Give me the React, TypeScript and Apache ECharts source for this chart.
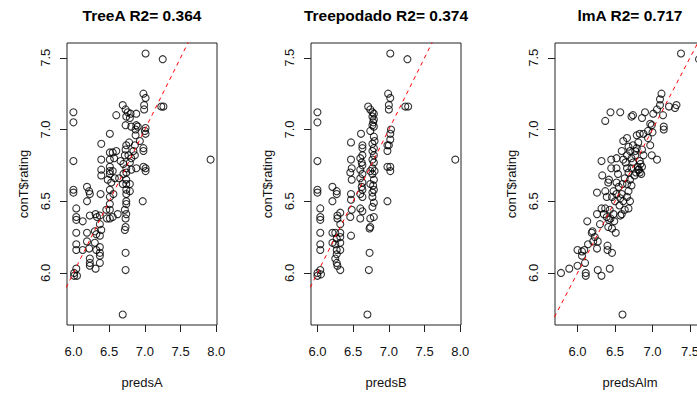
import React, { useEffect, useRef } from "react";
import * as echarts from "echarts";

// ---- data ----
const titles = ["TreeA R2= 0.364", "Treepodado R2= 0.374", "lmA R2= 0.717"];
const xNames = ["predsA", "predsB", "predsAlm"];
const yName = "conT$rating";
const yTicks = [6.0, 6.5, 7.0, 7.5];
const xTicksTree = [6.0, 6.5, 7.0, 7.5, 8.0];
const xTicksLm = [6.0, 6.5, 7.0, 7.5];

const pointsA: number[][] = [
  [7.01, 7.53], [7.25, 7.49], [6.0, 7.12], [6.0, 7.05], [6.0, 6.78], [6.0, 6.58], [6.0, 6.56], [7.92, 6.79],
  [6.98, 7.25], [6.99, 7.17], [6.99, 7.14], [7.01, 7.22], [7.23, 7.16], [7.26, 7.16], [6.69, 7.17], [6.73, 7.14],
  [6.76, 7.12], [6.8, 7.11], [6.88, 7.11], [6.74, 7.09], [6.79, 7.08], [6.6, 7.1], [6.73, 7.03], [6.81, 7.02],
  [6.88, 7.03], [6.51, 6.97], [6.39, 6.9], [6.87, 7.0], [6.9, 7.02], [7.01, 7.01], [7.01, 6.97], [7.0, 6.99],
  [6.87, 6.96], [6.93, 6.92], [6.98, 6.87], [6.98, 6.85], [6.86, 6.89], [6.74, 6.89], [6.73, 6.86], [6.77, 6.82],
  [6.72, 6.82], [6.81, 6.8], [6.79, 6.77], [6.86, 6.82], [6.39, 6.79], [6.39, 6.72], [6.39, 6.68], [6.38, 6.55],
  [6.51, 6.84], [6.55, 6.84], [6.6, 6.85], [6.51, 6.79], [6.51, 6.74], [6.51, 6.71], [6.51, 6.69], [6.55, 6.71],
  [6.48, 6.65], [6.53, 6.63], [6.58, 6.66], [6.51, 6.58], [6.51, 6.53], [6.51, 6.48], [6.51, 6.44], [6.51, 6.38],
  [6.46, 6.44], [6.56, 6.55], [6.7, 6.76], [6.74, 6.73], [6.74, 6.7], [6.74, 6.65], [6.74, 6.62], [6.74, 6.58],
  [6.74, 6.55], [6.74, 6.5], [6.74, 6.48], [6.72, 6.44], [6.74, 6.41], [6.73, 6.38], [6.73, 6.32], [6.72, 6.3],
  [6.79, 6.62], [6.79, 6.57], [6.81, 6.72], [6.88, 6.73], [6.98, 6.74], [7.01, 6.73], [7.01, 6.71], [6.97, 6.5],
  [6.73, 6.14], [6.73, 6.02], [6.69, 5.71], [6.04, 6.45], [6.04, 6.39], [6.04, 6.37], [6.04, 6.28], [6.04, 6.2],
  [6.04, 6.16], [6.19, 6.6], [6.22, 6.57], [6.23, 6.55], [6.19, 6.5], [6.13, 6.36], [6.23, 6.4], [6.31, 6.41],
  [6.33, 6.39], [6.19, 6.28], [6.3, 6.29], [6.32, 6.27], [6.19, 6.22], [6.22, 6.17], [6.3, 6.21], [6.32, 6.16],
  [6.23, 6.1], [6.23, 6.07], [6.23, 6.05], [6.31, 6.03], [6.37, 6.34], [6.39, 6.3], [6.37, 6.26], [6.37, 6.18],
  [6.37, 6.14], [6.37, 6.12], [6.37, 6.07], [6.04, 6.03], [6.01, 6.0], [6.05, 5.98], [6.01, 5.98], [6.13, 6.16],
  [6.55, 6.39], [6.62, 6.41], [6.37, 6.4], [6.47, 6.38], [6.57, 6.8], [6.66, 6.78], [6.7, 6.69], [6.69, 6.62],
  [6.64, 6.66], [6.78, 6.91], [6.84, 6.85],
];

const pointsB: number[][] = [
  [7.02, 7.53], [7.26, 7.49], [6.0, 7.12], [6.0, 7.05], [6.0, 6.78], [6.0, 6.58], [6.0, 6.56], [7.93, 6.79],
  [6.99, 7.25], [7.0, 7.17], [7.0, 7.14], [7.02, 7.22], [7.23, 7.16], [7.27, 7.16],
  [6.71, 7.16], [6.74, 7.14], [6.77, 7.12], [6.79, 7.11], [6.77, 7.09], [6.79, 7.07], [6.77, 7.03], [6.79, 7.02],
  [6.74, 6.99], [6.79, 6.95], [6.77, 6.9], [6.79, 6.87], [6.77, 6.85], [6.79, 6.82], [6.77, 6.79], [6.79, 6.77],
  [6.77, 6.73], [6.74, 6.71], [6.77, 6.69], [6.79, 6.65], [6.74, 6.62], [6.79, 6.58], [6.77, 6.56], [6.77, 6.53],
  [6.79, 6.49], [6.77, 6.46], [6.79, 6.39], [6.74, 6.38], [6.74, 6.32], [6.73, 6.31], [6.73, 6.14], [6.72, 6.02],
  [6.7, 5.71],
  [6.61, 6.97], [6.63, 6.89], [6.63, 6.87], [6.63, 6.82], [6.6, 6.8], [6.63, 6.75], [6.6, 6.72], [6.63, 6.69],
  [6.6, 6.66], [6.63, 6.63], [6.63, 6.58], [6.6, 6.55], [6.63, 6.53], [6.6, 6.45], [6.63, 6.43], [6.6, 6.38],
  [6.47, 6.91], [6.47, 6.79], [6.48, 6.73], [6.46, 6.7], [6.48, 6.65], [6.47, 6.55], [6.47, 6.51], [6.48, 6.44],
  [6.46, 6.39], [6.47, 6.26],
  [6.98, 6.89], [6.98, 6.85], [7.02, 6.93], [7.0, 6.89], [7.02, 6.97], [7.03, 7.0], [7.02, 6.74], [6.98, 6.74],
  [7.02, 6.71], [6.98, 6.5],
  [6.04, 6.45], [6.04, 6.39], [6.04, 6.37], [6.04, 6.28], [6.04, 6.2], [6.04, 6.16], [6.21, 6.6], [6.27, 6.57],
  [6.27, 6.55], [6.21, 6.5], [6.21, 6.28], [6.21, 6.21], [6.28, 6.4], [6.28, 6.38], [6.25, 6.28], [6.27, 6.24],
  [6.25, 6.2], [6.27, 6.16], [6.27, 6.13], [6.25, 6.1], [6.27, 6.07], [6.28, 6.05], [6.32, 6.42], [6.32, 6.34],
  [6.32, 6.28], [6.32, 6.25], [6.32, 6.21], [6.32, 6.16], [6.32, 6.02], [6.0, 6.0], [6.05, 5.99], [6.0, 5.98],
  [6.04, 6.02], [6.78, 7.05], [6.8, 6.92], [6.78, 6.61], [6.8, 6.71], [6.62, 6.77], [6.62, 6.6],
];

const pointsLm: number[][] = [
  [7.38, 7.53], [7.62, 7.49], [5.78, 6.0], [5.89, 6.03], [6.0, 6.05], [6.0, 6.16], [6.06, 6.15], [6.09, 6.16],
  [6.1, 6.07], [6.11, 6.0], [6.11, 5.98], [6.13, 6.36], [6.06, 6.12], [6.14, 6.2], [6.19, 6.28], [6.2, 6.29],
  [6.23, 6.25], [6.21, 6.22], [6.26, 6.17], [6.27, 6.22], [6.26, 6.41], [6.32, 6.45], [6.37, 6.45], [6.3, 6.34],
  [6.27, 6.02], [6.32, 5.98], [6.4, 6.19], [6.4, 6.16], [6.46, 6.14], [6.43, 6.03], [6.26, 6.56], [6.32, 6.78],
  [6.45, 6.79], [6.45, 6.73], [6.33, 6.68], [6.37, 6.57], [6.41, 6.63], [6.42, 6.65], [6.37, 7.06], [6.44, 7.12],
  [6.57, 7.12], [6.59, 6.85], [6.61, 6.79], [6.66, 6.82], [6.52, 6.73], [6.54, 6.69], [6.52, 6.63], [6.48, 6.57],
  [6.5, 6.5], [6.52, 6.55], [6.46, 6.53], [6.43, 6.44], [6.48, 6.41], [6.39, 6.39], [6.41, 6.32], [6.46, 6.31],
  [6.51, 6.28], [6.59, 6.41], [6.57, 6.4], [6.63, 6.44], [6.61, 6.5], [6.66, 6.53], [6.7, 6.5], [6.68, 6.57],
  [6.66, 6.62], [6.7, 6.65], [6.68, 6.7], [6.66, 6.73], [6.72, 6.73], [6.74, 6.77], [6.72, 6.8], [6.7, 6.85],
  [6.68, 6.88], [6.74, 6.89], [6.79, 6.87], [6.77, 6.82], [6.83, 6.78], [6.86, 6.74], [6.81, 6.72], [6.83, 6.7],
  [6.88, 6.82], [6.86, 6.86], [6.81, 6.91], [6.79, 6.96], [6.83, 6.97], [6.88, 6.97], [6.94, 6.94], [6.97, 6.89],
  [6.99, 6.82], [7.06, 6.79], [6.97, 7.04], [6.99, 7.03], [7.0, 6.98], [7.01, 7.11], [6.9, 7.12], [6.86, 7.08],
  [6.74, 7.1], [6.72, 7.09], [7.06, 7.14], [7.1, 7.17], [7.12, 7.25], [7.1, 7.21], [7.14, 7.1], [7.15, 7.02],
  [7.15, 7.0], [7.22, 7.16], [7.3, 7.15], [7.32, 7.17], [6.61, 6.92], [6.66, 6.94], [6.63, 6.66], [6.59, 6.55],
  [6.72, 6.61], [6.68, 6.45], [6.57, 6.52], [6.6, 5.71], [6.39, 6.53], [6.52, 6.8], [6.94, 6.99], [6.76, 6.68],
  [6.8, 6.74], [6.84, 6.76], [6.77, 6.85], [6.64, 6.77], [6.55, 6.6], [6.35, 6.41], [6.42, 6.37],
  [6.82, 6.72], [6.85, 6.69], [6.78, 6.7], [6.6, 6.62], [6.56, 6.47], [6.49, 6.36], [6.44, 6.38],
];

const panels = [
  { pts: pointsA, left: 67, xMin: 5.91, xMax: 8.01, xTicks: xTicksTree },
  { pts: pointsB, left: 311, xMin: 5.91, xMax: 8.01, xTicks: xTicksTree },
  { pts: pointsLm, left: 555, xMin: 5.7, xMax: 7.7, xTicks: xTicksLm },
];
const yMin = 5.637;
const yMax = 7.603;

const FONT = 'Arial, "Liberation Sans", sans-serif';

export default function App() {
  const ref = useRef<HTMLDivElement>(null);
  useEffect(() => {
    if (!ref.current) return;
    const chart = echarts.init(ref.current, undefined, { renderer: "svg" });
    const top = 43;
    const width = 150;
    const height = 288;
    const fmt = (v: number) => v.toFixed(1);
    const option: any = {
      animation: false,
      backgroundColor: "#fff",
      textStyle: { fontFamily: FONT },
      grid: panels.map((p) => ({
        left: p.left, top, width, height, show: true,
        borderColor: "#222", borderWidth: 1, backgroundColor: "transparent", containLabel: false,
      })),
      xAxis: panels.map((p, i) => ({
        type: "value", gridIndex: i, min: p.xMin, max: p.xMax,
        axisLine: { show: false },
        axisTick: { show: true, inside: false, length: 7, customValues: p.xTicks, lineStyle: { color: "#222", width: 1 } },
        axisLabel: { customValues: p.xTicks, formatter: fmt, margin: 20, color: "#111", fontSize: 13, fontFamily: FONT },
        splitLine: { show: false },
        name: xNames[i], nameLocation: "middle", nameGap: 51,
        nameTextStyle: { color: "#111", fontSize: 13, fontFamily: FONT },
      })),
      yAxis: panels.map((p, i) => ({
        type: "value", gridIndex: i, min: yMin, max: yMax,
        axisLine: { show: false },
        axisTick: { show: true, inside: false, length: 7, customValues: yTicks, lineStyle: { color: "#222", width: 1 } },
        axisLabel: { customValues: yTicks, formatter: fmt, margin: 15, rotate: 90, color: "#111", fontSize: 13, fontFamily: FONT },
        splitLine: { show: false },
        name: yName, nameLocation: "middle", nameGap: 37,
        nameTextStyle: { color: "#111", fontSize: 13, fontFamily: FONT },
      })),
      series: panels.flatMap((p, i) => [
        {
          type: "scatter", xAxisIndex: i, yAxisIndex: i, data: p.pts, symbol: "circle", symbolSize: 7,
          itemStyle: { color: "rgba(0,0,0,0)", borderColor: "#000", borderWidth: 1.1 },
          silent: true,
        },
        {
          type: "line", xAxisIndex: i, yAxisIndex: i, data: [[5.0, 5.0], [8.5, 8.5]], symbol: "none", clip: true,
          lineStyle: { color: "#ff0000", width: 1, type: [4, 4] }, silent: true, z: 5,
        },
      ]),
      graphic: panels.map((p, i) => ({
        type: "text", x: p.left + width / 2, y: 15,
        style: {
          text: titles[i], fontSize: 15.5, fontWeight: "bold", fontFamily: FONT, fill: "#000",
          align: "center", verticalAlign: "middle",
        },
      })),
    };
    chart.setOption(option);
    return () => chart.dispose();
  }, []);
  return (
    <div style={{ position: "fixed", left: 0, top: 0, width: 697, height: 394, overflow: "hidden", background: "#fff" }}>
      <div ref={ref} style={{ width: 720, height: 394 }} />
    </div>
  );
}
